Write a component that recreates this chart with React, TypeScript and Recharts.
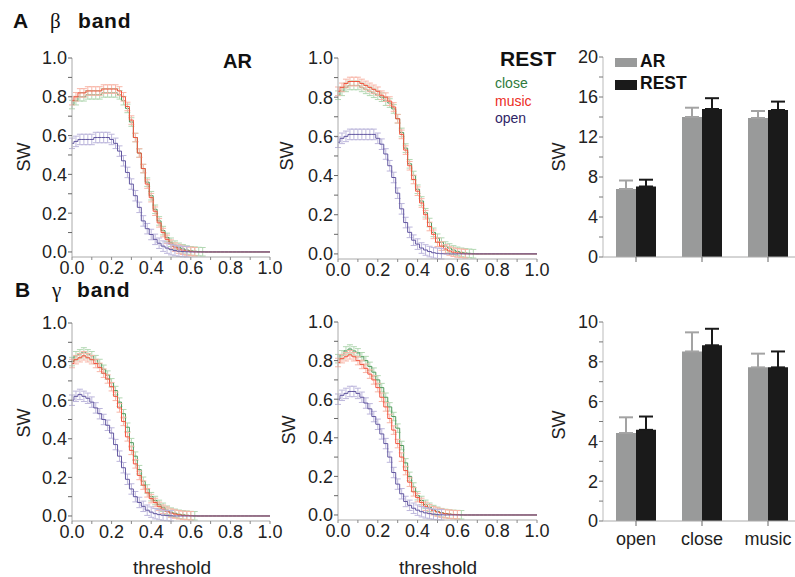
import { LineChart, Line, XAxis, YAxis, ErrorBar, BarChart, Bar } from 'recharts'

// Small-world index (SW) vs. correlation threshold for the beta and gamma
// bands, AR vs REST sessions, plus the per-condition integrated SW bars.

const FONT = '"Liberation Sans", Arial, Helvetica, sans-serif'

const thresholds = [
  0, 0.02, 0.04, 0.06, 0.08, 0.1, 0.12, 0.14, 0.16, 0.18,
  0.2, 0.22, 0.24, 0.26, 0.28, 0.3, 0.32, 0.34, 0.36, 0.38,
  0.4, 0.42, 0.44, 0.46, 0.48, 0.5, 0.52, 0.54, 0.56, 0.58,
  0.6, 0.62, 0.64, 0.66, 0.68, 0.7, 0.72, 0.74, 0.76, 0.78,
  0.8, 0.82, 0.84, 0.86, 0.88, 0.9, 0.92, 0.94, 0.96, 0.98,
  1,
]

// beta band, AR
const betaArClose = [
  0.76, 0.78, 0.8, 0.8, 0.81, 0.81, 0.81, 0.81, 0.82, 0.82,
  0.82, 0.82, 0.81, 0.78, 0.74, 0.67, 0.59, 0.51, 0.43, 0.36,
  0.29, 0.22, 0.16, 0.11, 0.075, 0.05, 0.035, 0.024, 0.016, 0.01,
  0.006, 0.004, 0.002, 0.001, 0, 0, 0, 0, 0, 0,
  0, 0, 0, 0, 0, 0, 0, 0, 0, 0,
  0,
]
const betaArMusic = [
  0.78, 0.8, 0.82, 0.82, 0.83, 0.83, 0.83, 0.83, 0.84, 0.84,
  0.84, 0.84, 0.83, 0.8, 0.75, 0.68, 0.59, 0.51, 0.43, 0.35,
  0.28, 0.21, 0.15, 0.1, 0.065, 0.04, 0.025, 0.015, 0.009, 0.005,
  0.003, 0.001, 0, 0, 0, 0, 0, 0, 0, 0,
  0, 0, 0, 0, 0, 0, 0, 0, 0, 0,
  0,
]
const betaArOpen = [
  0.56, 0.57, 0.58, 0.58, 0.58, 0.58, 0.59, 0.59, 0.59, 0.59,
  0.58, 0.56, 0.52, 0.47, 0.41, 0.35, 0.29, 0.23, 0.16, 0.12,
  0.09, 0.065, 0.045, 0.03, 0.02, 0.012, 0.007, 0.004, 0.002, 0.001,
  0, 0, 0, 0, 0, 0, 0, 0, 0, 0,
  0, 0, 0, 0, 0, 0, 0, 0, 0, 0,
  0,
]

// beta band, REST
const betaRestClose = [
  0.81, 0.83, 0.85, 0.86, 0.86, 0.86, 0.85, 0.84, 0.83, 0.82,
  0.81, 0.8, 0.78, 0.77, 0.74, 0.69, 0.62, 0.54, 0.46, 0.4,
  0.33, 0.27, 0.21, 0.16, 0.11, 0.08, 0.06, 0.04, 0.03, 0.02,
  0.013, 0.008, 0.005, 0.003, 0.001, 0, 0, 0, 0, 0,
  0, 0, 0, 0, 0, 0, 0, 0, 0, 0,
  0,
]
const betaRestMusic = [
  0.83, 0.85, 0.87, 0.88, 0.88, 0.88, 0.87, 0.86, 0.85, 0.84,
  0.83, 0.81, 0.8, 0.78, 0.75, 0.69, 0.61, 0.53, 0.45, 0.38,
  0.32, 0.26, 0.2, 0.14, 0.1, 0.06, 0.04, 0.025, 0.015, 0.009,
  0.005, 0.003, 0.001, 0, 0, 0, 0, 0, 0, 0,
  0, 0, 0, 0, 0, 0, 0, 0, 0, 0,
  0,
]
const betaRestOpen = [
  0.57, 0.59, 0.6, 0.61, 0.61, 0.61, 0.61, 0.61, 0.61, 0.61,
  0.59, 0.56, 0.51, 0.45, 0.39, 0.31, 0.23, 0.16, 0.11, 0.07,
  0.05, 0.03, 0.02, 0.012, 0.006, 0.003, 0.001, 0, 0, 0,
  0, 0, 0, 0, 0, 0, 0, 0, 0, 0,
  0, 0, 0, 0, 0, 0, 0, 0, 0, 0,
  0,
]

// gamma band, AR
const gammaArClose = [
  0.8, 0.83, 0.84, 0.85, 0.84, 0.83, 0.81, 0.79, 0.76, 0.73,
  0.69, 0.65, 0.59, 0.53, 0.46, 0.38, 0.31, 0.24, 0.18, 0.14,
  0.1, 0.08, 0.06, 0.045, 0.03, 0.02, 0.014, 0.009, 0.006, 0.004,
  0.002, 0.001, 0, 0, 0, 0, 0, 0, 0, 0,
  0, 0, 0, 0, 0, 0, 0, 0, 0, 0,
  0,
]
const gammaArMusic = [
  0.79, 0.81, 0.82, 0.83, 0.82, 0.81, 0.79, 0.77, 0.74, 0.71,
  0.67, 0.62, 0.56, 0.49, 0.41, 0.34, 0.27, 0.21, 0.16, 0.12,
  0.09, 0.07, 0.05, 0.035, 0.025, 0.015, 0.01, 0.006, 0.003, 0.002,
  0.001, 0, 0, 0, 0, 0, 0, 0, 0, 0,
  0, 0, 0, 0, 0, 0, 0, 0, 0, 0,
  0,
]
const gammaArOpen = [
  0.6, 0.62, 0.63, 0.62, 0.61, 0.59, 0.56, 0.53, 0.5, 0.47,
  0.43, 0.37, 0.31, 0.25, 0.19, 0.14, 0.1, 0.07, 0.05, 0.03,
  0.02, 0.012, 0.007, 0.004, 0.002, 0.001, 0, 0, 0, 0,
  0, 0, 0, 0, 0, 0, 0, 0, 0, 0,
  0, 0, 0, 0, 0, 0, 0, 0, 0, 0,
  0,
]

// gamma band, REST
const gammaRestClose = [
  0.81, 0.83, 0.85, 0.86, 0.85, 0.84, 0.82, 0.8, 0.77, 0.74,
  0.7, 0.66, 0.61, 0.56, 0.51, 0.45, 0.36, 0.27, 0.2, 0.145,
  0.1, 0.075, 0.055, 0.04, 0.028, 0.019, 0.012, 0.008, 0.005, 0.003,
  0.002, 0.001, 0, 0, 0, 0, 0, 0, 0, 0,
  0, 0, 0, 0, 0, 0, 0, 0, 0, 0,
  0,
]
const gammaRestMusic = [
  0.79, 0.81, 0.82, 0.83, 0.82, 0.8, 0.78, 0.76, 0.73, 0.7,
  0.66, 0.61, 0.56, 0.5, 0.44, 0.37, 0.3, 0.23, 0.17, 0.12,
  0.09, 0.065, 0.045, 0.032, 0.022, 0.015, 0.01, 0.006, 0.004, 0.002,
  0.001, 0, 0, 0, 0, 0, 0, 0, 0, 0,
  0, 0, 0, 0, 0, 0, 0, 0, 0, 0,
  0,
]
const gammaRestOpen = [
  0.6, 0.62, 0.63, 0.64, 0.64, 0.63, 0.61, 0.58, 0.55, 0.51,
  0.47, 0.42, 0.37, 0.3, 0.22, 0.16, 0.11, 0.07, 0.05, 0.035,
  0.025, 0.017, 0.011, 0.007, 0.004, 0.002, 0.001, 0, 0, 0,
  0, 0, 0, 0, 0, 0, 0, 0, 0, 0,
  0, 0, 0, 0, 0, 0, 0, 0, 0, 0,
  0,
]

// rough SEM of each condition's curve
const semClose = 0.022
const semMusic = 0.022
const semOpen = 0.027

// integrated SW per condition
const conditions = ['open', 'close', 'music']
const betaAr = [6.8, 14.0, 13.9]
const betaArErr = [0.85, 0.93, 0.7]
const betaRest = [7.05, 14.8, 14.7]
const betaRestErr = [0.68, 1.08, 0.84]
const gammaAr = [4.42, 8.52, 7.72]
const gammaArErr = [0.79, 0.96, 0.69]
const gammaRest = [4.58, 8.83, 7.72]
const gammaRestErr = [0.67, 0.83, 0.8]

const lineTicks = [0, 0.1, 0.2, 0.3, 0.4, 0.5, 0.6, 0.7, 0.8, 0.9, 1]
const betaBarTicks = [0, 2, 4, 6, 8, 10, 12, 14, 16, 18, 20]
const gammaBarTicks = [0, 1, 2, 3, 4, 5, 6, 7, 8, 9, 10]

const COLORS = {
  close: { line: '#4f9a5c', err: '#b3d8b3' },
  music: { line: '#f2553f', err: '#f8b6a8' },
  open: { line: '#6257a0', err: '#bdb7dc' },
}

function curveRows(close: number[], music: number[], open: number[]) {
  return thresholds.map((t, i) => ({
    t,
    close: close[i],
    music: music[i],
    open: open[i],
    closeE: close[i] > 0 ? semClose : 0,
    musicE: music[i] > 0 ? semMusic : 0,
    openE: open[i] > 0 ? semOpen : 0,
  }))
}

function barRows(ar: number[], arErr: number[], rest: number[], restErr: number[]) {
  return conditions.map((c, i) => ({ cat: c, ar: ar[i], rest: rest[i], arE: [0, arErr[i]], restE: [0, restErr[i]] }))
}

const tickStyle = { fontSize: 18, fill: '#222', fontFamily: FONT }
const evenTenth = (v: number) => (Math.round(v * 10) % 2 === 0 ? v.toFixed(1) : '')

function CurvePanel({ rows, x0, x1, top, bottom }: { rows: any[]; x0: number; x1: number; top: number; bottom: number }) {
  const yW = 50, xH = 30, padT = 10, padR = 20
  return (
    <div style={{ position: 'absolute', left: x0 - yW, top: top - padT }}>
      <LineChart width={yW + (x1 - x0) + padR} height={padT + (bottom - top) + xH} data={rows}
        margin={{ top: padT, right: padR, bottom: 0, left: 0 }}>
        <XAxis dataKey="t" type="number" domain={[0, 1]} ticks={lineTicks} tickFormatter={evenTenth} height={xH}
          tick={tickStyle} tickSize={3} tickMargin={1} stroke="#aaa" tickLine={{ stroke: '#888' }} interval={0} />
        <YAxis type="number" domain={[0, 1]} ticks={lineTicks} tickFormatter={evenTenth} width={yW}
          tick={tickStyle} tickSize={4} tickMargin={1} stroke="#aaa" tickLine={{ stroke: '#666' }} interval={0} />
        {(['close', 'music', 'open'] as const).map((k) => (
          <Line key={k} dataKey={k} type="step" stroke={COLORS[k].line} strokeWidth={1} dot={false} isAnimationActive={false}>
            <ErrorBar dataKey={`${k}E`} width={3} stroke={COLORS[k].err} strokeWidth={1} isAnimationActive={false} />
          </Line>
        ))}
      </LineChart>
    </div>
  )
}

function BarPanel({ rows, ticks, label, top, bottom, showCats }: {
  rows: any[]; ticks: number[]; label: (v: number) => string; top: number; bottom: number; showCats: boolean
}) {
  const x0 = 603, x1 = 801, yW = 45, xH = 40, padT = 10
  const max = ticks[ticks.length - 1]
  return (
    <div style={{ position: 'absolute', left: x0 - yW, top: top - padT }}>
      <BarChart width={yW + (x1 - x0)} height={padT + (bottom - top) + xH} data={rows}
        margin={{ top: padT, right: 0, bottom: 0, left: 0 }} barGap={0} barSize={20}>
        <XAxis dataKey="cat" height={xH} tick={tickStyle} tickFormatter={(v) => (showCats ? v : '')}
          tickSize={5} tickMargin={6} stroke="#aaa" tickLine={{ stroke: '#666' }} />
        <YAxis type="number" domain={[0, max]} ticks={ticks} tickFormatter={label} width={yW} interval={0}
          tick={tickStyle} tickSize={4} tickMargin={1} stroke="#bbb" tickLine={{ stroke: '#777' }} />
        <Bar dataKey="ar" fill="#999a9a" isAnimationActive={false}>
          <ErrorBar dataKey="arE" width={7} stroke="#a3a3a3" strokeWidth={2} isAnimationActive={false} />
        </Bar>
        <Bar dataKey="rest" fill="#1a1a1a" isAnimationActive={false}>
          <ErrorBar dataKey="restE" width={7} stroke="#1a1a1a" strokeWidth={2} isAnimationActive={false} />
        </Bar>
      </BarChart>
    </div>
  )
}

function SW({ cx, cy }: { cx: number; cy: number }) {
  return (
    <text transform={`translate(${cx + 6.5},${cy}) rotate(-90)`} textAnchor="middle" fontSize={18} fill="#222">SW</text>
  )
}

export default function App() {
  return (
    <div style={{ position: 'absolute', left: 0, top: 0, width: 795, height: 577, overflow: 'hidden', background: '#fff', fontFamily: FONT }}>
      <CurvePanel rows={curveRows(betaArClose, betaArMusic, betaArOpen)} x0={72} x1={270} top={58} bottom={257} />
      <CurvePanel rows={curveRows(betaRestClose, betaRestMusic, betaRestOpen)} x0={338} x1={537} top={58} bottom={259} />
      <CurvePanel rows={curveRows(gammaArClose, gammaArMusic, gammaArOpen)} x0={72} x1={270} top={323} bottom={521} />
      <CurvePanel rows={curveRows(gammaRestClose, gammaRestMusic, gammaRestOpen)} x0={338} x1={537} top={322} bottom={520} />
      <BarPanel rows={barRows(betaAr, betaArErr, betaRest, betaRestErr)} ticks={betaBarTicks}
        label={(v) => (v % 4 === 0 ? String(v) : '')} top={57} bottom={257} showCats={false} />
      <BarPanel rows={barRows(gammaAr, gammaArErr, gammaRest, gammaRestErr)} ticks={gammaBarTicks}
        label={(v) => (v % 2 === 0 ? String(v) : '')} top={322} bottom={521} showCats />

      <svg width={795} height={577} style={{ position: 'absolute', left: 0, top: 0, pointerEvents: 'none' }} fontFamily={FONT}>
        <text x={13} y={28} fontSize={21} fontWeight="bold" fill="#111">A</text>
        <text x={50} y={28} fontSize={21} fontFamily='"Liberation Serif", serif' fill="#111">β</text>
        <text x={78} y={28} fontSize={21} fontWeight="bold" letterSpacing={0.8} fill="#111">band</text>
        <text x={15} y={297} fontSize={21} fontWeight="bold" fill="#111">B</text>
        <text x={52} y={297} fontSize={21} fontFamily='"Liberation Serif", serif' fill="#111">γ</text>
        <text x={77} y={297} fontSize={21} fontWeight="bold" letterSpacing={0.8} fill="#111">band</text>

        <text x={223} y={68} fontSize={20} fontWeight="bold" fill="#111">AR</text>
        <text x={500} y={66} fontSize={21} fontWeight="bold" fill="#111">REST</text>
        <text x={495} y={88} fontSize={14} fill="#2e7a3c">close</text>
        <text x={495} y={105.5} fontSize={14} fill="#ec2c24">music</text>
        <text x={495} y={123} fontSize={14} fill="#2f2566">open</text>

        <rect x={615} y={58} width={22} height={9} fill="#999a9a" />
        <text x={640} y={67} fontSize={17.5} fontWeight="bold" fill="#111">AR</text>
        <rect x={615} y={80} width={22} height={10} fill="#1a1a1a" />
        <text x={640} y={89} fontSize={17.5} fontWeight="bold" fill="#111">REST</text>

        <SW cx={23} cy={157} />
        <SW cx={286} cy={156} />
        <SW cx={558} cy={157} />
        <SW cx={23} cy={423} />
        <SW cx={288} cy={430} />
        <SW cx={558} cy={425} />

        <text x={172} y={574} fontSize={19} textAnchor="middle" fill="#222">threshold</text>
        <text x={438} y={574} fontSize={19} textAnchor="middle" fill="#222">threshold</text>
      </svg>
    </div>
  )
}
